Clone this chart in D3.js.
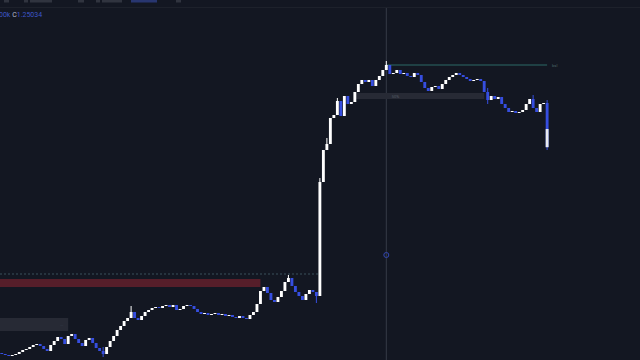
<!DOCTYPE html>
<html>
<head>
<meta charset="utf-8">
<script src="https://cdn.jsdelivr.net/npm/d3@7/dist/d3.min.js"></script>
<style>
  html, body { margin: 0; padding: 0; background: #131722; overflow: hidden; }
  svg { display: block; }
</style>
</head>
<body>
<div id="chart"></div>
<script>
// closes, one per candle (open = previous close)
const firstOpen = 1.24005;
const closes = [
  1.24000, 1.23995, 1.23990, 1.23995, 1.24000, 1.24010, 1.24020, 1.24025, 1.24035, 1.24045,
  1.24050, 1.24040, 1.24025, 1.24015, 1.24045, 1.24065, 1.24085, 1.24075, 1.24050, 1.24090,
  1.24100, 1.24075, 1.24055, 1.24040, 1.24070, 1.24080, 1.24055, 1.24030, 1.24015, 1.24000,
  1.24035, 1.24065, 1.24090, 1.24120, 1.24140, 1.24165, 1.24180, 1.24210, 1.24180, 1.24170,
  1.24190, 1.24210, 1.24220, 1.24230, 1.24235, 1.24230, 1.24240, 1.24245, 1.24235, 1.24245,
  1.24220, 1.24225, 1.24240, 1.24245, 1.24240, 1.24225, 1.24210, 1.24200, 1.24205, 1.24195,
  1.24200, 1.24205, 1.24195, 1.24200, 1.24190, 1.24195, 1.24185, 1.24180, 1.24190, 1.24180,
  1.24175, 1.24195, 1.24210, 1.24250, 1.24315, 1.24335, 1.24305, 1.24270, 1.24260, 1.24285,
  1.24315, 1.24360, 1.24380, 1.24340, 1.24310, 1.24290, 1.24270, 1.24300, 1.24320, 1.24310,
  1.24290, 1.24860, 1.25020, 1.25050, 1.25180, 1.25195, 1.25265, 1.25190, 1.25290, 1.25250,
  1.25260, 1.25310, 1.25350, 1.25370, 1.25360, 1.25370, 1.25340, 1.25370, 1.25390, 1.25420,
  1.25445, 1.25400, 1.25405, 1.25420, 1.25400, 1.25405, 1.25390, 1.25385, 1.25405, 1.25395,
  1.25360, 1.25330, 1.25315, 1.25335, 1.25340, 1.25325, 1.25350, 1.25370, 1.25385, 1.25395,
  1.25405, 1.25395, 1.25385, 1.25375, 1.25365, 1.25370, 1.25375, 1.25365, 1.25310, 1.25270,
  1.25290, 1.25275, 1.25285, 1.25250, 1.25230, 1.25210, 1.25215, 1.25205, 1.25210, 1.25220,
  1.25250, 1.25275, 1.25230, 1.25210, 1.25250, 1.25255, 1.25034
];

// visible wicks: [candle index, high, low]
const wicks = [
  [29, 1.24035, 1.23985],
  [37, 1.24240, 1.24180],
  [82, 1.24395, 1.24360],
  [90, 1.24310, 1.24255],
  [91, 1.24880, 1.24290],
  [93, 1.25080, 1.25020],
  [96, 1.25280, 1.25195],
  [110, 1.25465, 1.25420],
  [139, 1.25330, 1.25250],
  [152, 1.25295, 1.25230],
  [156, 1.25270, 1.25020]
];

// the live bar is drawn light below this price
const liveSplit = 1.25125;

// levels and zones: [fromIndex, toIndex, top, bottom]
const bslLevel = { from: 110, to: 156, price: 1.25445, label: "bsl" };
const dashedLevel = { from: 0, to: 90, price: 1.24400 };
const redZone = [0, 74, 1.24375, 1.24335];
const grayZones = [
  [101, 138, 1.25305, 1.25275, "50%"],
  [-1, 19, 1.24180, 1.24115, "..."]
];
const crosshair = { index: 110, price: 1.24495 };
const lastClose = "1.25034";

const width = 640;
const height = 360;

const candles = closes.map((c, i) => {
  const o = i === 0 ? firstOpen : closes[i - 1];
  const w = wicks.find((d) => d[0] === i);
  return {
    i: i,
    open: o,
    close: c,
    high: w ? w[1] : Math.max(o, c),
    low: w ? w[2] : Math.min(o, c),
  };
});

const x = d3
  .scaleBand()
  .domain(d3.range(closes.length))
  .range([0, 549.5])
  .padding(0.18);
const step = x.step();
const cx = (i) => x(0) - x.step() * x.padding() + step * i + step / 2;

const y = d3.scaleLinear().domain([1.2397, 1.2577]).range([height, 0]);

const svg = d3
  .select("#chart")
  .append("svg")
  .attr("width", width)
  .attr("height", height)
  .style("background", "#131722");

// top toolbar remnants
svg.append("line")
  .attr("x1", 0).attr("x2", width)
  .attr("y1", 7.5).attr("y2", 7.5)
  .attr("stroke", "#1d212b");
const toolbarBits = [[4, 5], [24, 4], [30, 22], [78, 6], [96, 4], [102, 20], [131, 26], [176, 5]];
svg.selectAll(".tool")
  .data(toolbarBits)
  .enter()
  .append("rect")
  .attr("x", (d) => d[0])
  .attr("y", 0)
  .attr("width", (d) => d[1])
  .attr("height", 2.5)
  .attr("fill", (d, i) => (i === 6 ? "#283670" : "#30343f"));

// legend text
const legend = svg.append("text")
  .attr("x", -1)
  .attr("y", 17)
  .style("font-family", "Roboto, sans-serif")
  .style("font-size", "7px");
legend.append("tspan").attr("fill", "#3d56c9").text("00k ");
legend.append("tspan").attr("fill", "#b8bccb").text("C");
legend.append("tspan").attr("fill", "#3d56c9").text(lastClose);

// crosshair
svg.append("line")
  .attr("x1", cx(crosshair.index)).attr("x2", cx(crosshair.index))
  .attr("y1", 8).attr("y2", height)
  .attr("stroke", "#363b48")
  .attr("stroke-width", 1);
svg.append("circle")
  .attr("cx", cx(crosshair.index))
  .attr("cy", y(crosshair.price))
  .attr("r", 2.5)
  .attr("fill", "none")
  .attr("stroke", "#3347b0")
  .attr("stroke-width", 1);

// zones
svg.append("rect")
  .attr("x", cx(redZone[0]) - step)
  .attr("y", y(redZone[2]))
  .attr("width", cx(redZone[1]) - cx(redZone[0]) + step)
  .attr("height", y(redZone[3]) - y(redZone[2]))
  .attr("fill", "#561e2a");

svg.selectAll(".gzone")
  .data(grayZones)
  .enter()
  .append("rect")
  .attr("x", (d) => Math.max(0, cx(d[0])))
  .attr("y", (d) => y(d[2]))
  .attr("width", (d) => cx(d[1]) - Math.max(0, cx(d[0])))
  .attr("height", (d) => y(d[3]) - y(d[2]))
  .attr("fill", "#272a35");

svg.selectAll(".gzoneLabel")
  .data(grayZones)
  .enter()
  .append("text")
  .attr("x", (d, i) => (i === 0 ? cx(d[0]) + 37 : cx(d[1]) - 8))
  .attr("y", (d) => (y(d[2]) + y(d[3])) / 2 + 1.5)
  .attr("fill", "#555a66")
  .style("font-family", "Roboto, sans-serif")
  .style("font-size", "4px")
  .text((d) => d[4]);

svg.append("line")
  .attr("x1", 0)
  .attr("x2", cx(dashedLevel.to) + step)
  .attr("y1", y(dashedLevel.price))
  .attr("y2", y(dashedLevel.price))
  .attr("stroke", "#3a505a")
  .attr("stroke-dasharray", "2,2")
  .attr("stroke-width", 1);

svg.append("line")
  .attr("x1", cx(bslLevel.from))
  .attr("x2", cx(bslLevel.to))
  .attr("y1", y(bslLevel.price))
  .attr("y2", y(bslLevel.price))
  .attr("stroke", "#2c6a66")
  .attr("stroke-width", 1);
svg.append("text")
  .attr("x", cx(bslLevel.to) + 5)
  .attr("y", y(bslLevel.price) + 1.5)
  .attr("fill", "#4f6a6a")
  .style("font-family", "Roboto, sans-serif")
  .style("font-size", "4px")
  .text(bslLevel.label);

// candles
const upColor = "#ffffff";
const downColor = "#364ee0";
const colorOf = (d) => (d.close >= d.open ? upColor : downColor);
const g = svg.append("g");

g.selectAll(".wick")
  .data(candles)
  .enter()
  .append("line")
  .attr("x1", (d) => cx(d.i))
  .attr("x2", (d) => cx(d.i))
  .attr("y1", (d) => y(d.high))
  .attr("y2", (d) => y(d.low))
  .attr("stroke", colorOf)
  .attr("stroke-width", 1);

g.selectAll(".body")
  .data(candles)
  .enter()
  .append("rect")
  .attr("x", (d) => cx(d.i) - x.bandwidth() / 2)
  .attr("y", (d) => y(Math.max(d.open, d.close)))
  .attr("width", x.bandwidth())
  .attr("height", (d) => Math.max(1, Math.abs(y(d.open) - y(d.close))))
  .attr("fill", colorOf);

// live bar, lower part shown light
const live = candles[candles.length - 1];
g.append("rect")
  .attr("x", cx(live.i) - x.bandwidth() / 2)
  .attr("y", y(liveSplit))
  .attr("width", x.bandwidth())
  .attr("height", y(live.close) - y(liveSplit))
  .attr("fill", "#e8eaf0");
</script>
</body>
</html>
